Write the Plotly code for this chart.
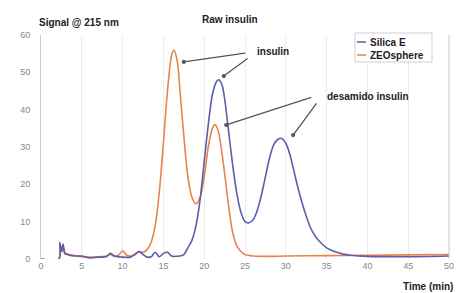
import plotly.graph_objects as go

# ---- data ----
zeo_t = [0, 2.2, 2.4, 2.6, 2.8, 3.0, 3.5, 4, 5, 6, 7, 8, 8.5, 9, 9.5, 10, 10.5, 11, 11.5, 12, 12.5, 13,
         13.5, 14, 14.5, 15, 15.5, 16, 16.3, 16.7, 17, 17.5, 18, 18.5, 19, 19.5, 20, 20.5, 21, 21.3, 21.7,
         22, 22.5, 23, 23.5, 24, 24.5, 25, 26, 28, 30, 35, 40, 45, 50]
zeo_v = [0, 0, 3.5, 2, 3, 1.5, 1.2, 1.0, 0.6, 0.5, 0.6, 0.8, 1.2, 0.7, 1.0, 2.2, 1.0, 0.8, 1.2, 2.0, 1.8, 2.5,
         4.5, 9, 18, 31, 45, 54.5, 56, 53, 46, 33, 22, 16.5, 14.8, 16.5, 22, 30, 35, 36, 34.5,
         31, 23, 14, 7, 3.5, 2, 1.2, 0.8, 0.7, 0.8, 0.9, 1.0, 1.1, 1.2]

sil_t = [0, 2.2, 2.3, 2.5, 2.7, 2.9, 3.2, 4, 5, 6, 7, 8, 8.5, 9, 10, 11, 11.5, 12, 12.5, 13, 13.5, 14, 14.5,
         15, 15.5, 16, 17, 17.5, 18, 18.5, 19, 19.5, 20, 20.5, 21, 21.5, 21.8, 22.2, 22.5, 23, 23.5, 24,
         24.5, 25, 25.5, 26, 26.5, 27, 27.5, 28, 28.5, 29, 29.5, 30, 30.5, 31, 31.5, 32, 32.5, 33, 33.5,
         34, 35, 36, 37, 38, 40, 45, 50]
sil_v = [0, 0, 4.5, 2, 4, 1.5, 1.2, 0.8, 0.8, 0.3, 0.5, 0.6, 1.5, 0.8, 0.5, 0.5, 1.2, 2.0, 1.2, 0.5, 0.6, 1.8, 0.6,
         1.5, 1.8, 0.8, 0.8, 1.2, 3, 5, 9, 16, 26, 36, 44, 47.5, 48, 46.5, 43, 34, 25, 17.5,
         12.5, 10, 9.7, 10.5, 13, 17, 22, 27, 30.5, 32, 32.3, 31, 28, 23.5, 19, 15, 11.5, 8.5, 6.5,
         5, 3, 2, 1.3, 1.0, 0.7, 0.6, 0.8]

x_ticks = [0, 5, 10, 15, 20, 25, 30, 35, 40, 45, 50]
y_ticks = [0, 10, 20, 30, 40, 50, 60]

BLUE = "#5b5fa9"
ORANGE = "#e6834f"
FONT = "Liberation Sans, Arial, sans-serif"

fig = go.Figure()
fig.add_trace(go.Scatter(x=zeo_t, y=zeo_v, mode="lines", name="ZEOsphere",
                         line=dict(color=ORANGE, width=1.6, shape="spline", smoothing=0.8)))
fig.add_trace(go.Scatter(x=sil_t, y=sil_v, mode="lines", name="Silica E",
                         line=dict(color=BLUE, width=1.6, shape="spline", smoothing=0.8)))

fig.update_layout(
    width=457, height=293,
    margin=dict(l=41, r=8, t=35, b=34, autoexpand=False),
    paper_bgcolor="white", plot_bgcolor="white",
    showlegend=False,
    font=dict(family=FONT, size=9, color="#777"),
)
fig.update_xaxes(range=[0, 50], tickvals=x_ticks, showgrid=True, gridcolor="#ececec", gridwidth=1,
                 zeroline=False, showline=False, ticks="", tickfont=dict(size=9, color="#888"),
                 automargin=False)
fig.update_yaxes(range=[0, 60], tickvals=y_ticks, showgrid=False, zeroline=False,
                 showline=True, linecolor="#c8c8d8", linewidth=1, ticks="",
                 tickfont=dict(size=9, color="#888"), ticklabelstandoff=8, automargin=False)

# right border line
fig.add_shape(type="line", xref="paper", yref="paper", x0=1, x1=1, y0=0, y1=1.0,
              line=dict(color="#c8c8c8", width=1))

# helpers: pixel -> paper coords (plot area x 41..449, y 35..259)
def px(p):
    return (p - 41) / 408
def py(p):
    return (259 - p) / 224

TXT = dict(size=10, color="#222", family=FONT)
fig.add_annotation(text="<b>Signal @ 215 nm</b>", xref="paper", yref="paper", x=px(37), y=py(23),
                   xanchor="left", yanchor="middle", showarrow=False, font=TXT)
fig.add_annotation(text="<b>Raw insulin</b>", xref="paper", yref="paper", x=px(200), y=py(19),
                   xanchor="left", yanchor="middle", showarrow=False, font=TXT)
fig.add_annotation(text="<b>Time (min)</b>", xref="paper", yref="paper", x=px(455), y=py(286),
                   xanchor="right", yanchor="middle", showarrow=False, font=TXT)
fig.add_annotation(text="<b>insulin</b>", x=(255-41)/8.16, y=(259-52)/3.733, xanchor="left", yanchor="middle",
                   showarrow=False, font=TXT)
fig.add_annotation(text="<b>desamido insulin</b>", x=(325-41)/8.16, y=(259-97)/3.733, xanchor="left",
                   yanchor="middle", showarrow=False, font=TXT)

# arrows (tip, tail)
arrows = [((17.5, 52.8), (25.2, 55.2)), ((22.4, 49.0), (25.5, 54.0)),
          ((22.7, 35.9), (33.3, 43.4)), ((30.9, 33.2), (33.9, 42.1))]
for (x, y), (ax, ay) in arrows:
    fig.add_annotation(x=x, y=y, ax=ax, ay=ay, axref="x", ayref="y", text="", showarrow=True,
                       arrowhead=6, arrowsize=0.8, arrowwidth=1.3, arrowcolor="#555")

# manual legend
fig.add_shape(type="rect", xref="paper", yref="paper", x0=px(355), x1=px(432), y0=py(62), y1=py(33),
              line=dict(color="#cfcfcf", width=1), fillcolor="white")
for name, col, yy in [("Silica E", BLUE, 42), ("ZEOsphere", ORANGE, 55)]:
    fig.add_shape(type="line", xref="paper", yref="paper", x0=px(357), x1=px(366), y0=py(yy), y1=py(yy),
                  line=dict(color=col, width=1.5))
    fig.add_annotation(text="<b>" + name + "</b>", xref="paper", yref="paper", x=px(368), y=py(yy),
                       xanchor="left", yanchor="middle", showarrow=False, font=TXT)

fig.write_html("out.html", config={"displayModeBar": False},
               post_script="document.body.style.margin='0';document.body.style.overflow='hidden';")
